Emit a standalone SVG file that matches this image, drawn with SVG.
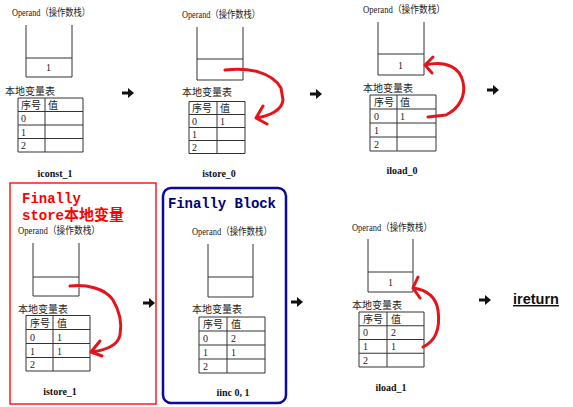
<svg xmlns="http://www.w3.org/2000/svg" xmlns:xlink="http://www.w3.org/1999/xlink" width="573" height="407" viewBox="0 0 573 407">
<style>
.bg{fill:#fff}
.ln{fill:none;stroke:#333;stroke-width:1}
.t{font-family:"Liberation Serif","Noto Sans CJK SC",serif;font-size:10px;fill:#222}
.c{font-family:"Noto Sans CJK SC",sans-serif;font-size:10px;fill:#222}
.lb{font-family:"Liberation Serif",serif;font-size:10px;font-weight:bold;fill:#111;text-anchor:middle}
.red{fill:none;stroke:#e5141b;stroke-width:3;stroke-linecap:round;stroke-linejoin:round}
.arr{fill:#111}
.mono{font-family:"Liberation Mono","Noto Sans CJK SC",monospace;font-size:14px;font-weight:bold}
</style>
<defs>
<path id="arr" d="M0,-1.6 H6 V-5 L12,0 L6,5 V1.6 H0 Z"/>
</defs>
<rect class="bg" width="573" height="407"/>

<g id="step1">
<text class="t" x="12" y="16" textLength="78" lengthAdjust="spacingAndGlyphs">Operand（操作数栈）</text>
<path class="ln" d="M26,25 V77 H72 V25 M26,58 H72"/>
<text class="t" x="46" y="71">1</text>
<text class="c" x="5" y="95">本地变量表</text>
<path class="ln" d="M18,98 H83 V152 H18 Z M18,111.5 H83 M18,125 H83 M18,138.5 H83 M45,98 V152"/>
<text class="c" x="21" y="108.5">序号</text><text class="c" x="48" y="108.5">值</text>
<text class="t" x="21" y="122">0</text><text class="t" x="21" y="135.5">1</text><text class="t" x="21" y="149">2</text>
<text class="lb" x="55" y="177">iconst_1</text>
</g>

<g id="step2">
<text class="t" x="182" y="18" textLength="78" lengthAdjust="spacingAndGlyphs">Operand（操作数栈）</text>
<path class="ln" d="M197,27 V80 H243 V27 M197,59 H243"/>
<text class="c" x="182" y="96">本地变量表</text>
<path class="ln" d="M189,101.5 H245 V153.5 H189 Z M189,114.5 H245 M189,127.5 H245 M189,140.5 H245 M217,101.5 V153.5"/>
<text class="c" x="192" y="111.5">序号</text><text class="c" x="220" y="111.5">值</text>
<text class="t" x="192" y="124.5">0</text><text class="t" x="220" y="124.5">1</text>
<text class="t" x="192" y="137.5">1</text><text class="t" x="192" y="150.5">2</text>
<text class="lb" x="219" y="177">istore_0</text>
</g>

<g id="step3">
<text class="t" x="363" y="13" textLength="82" lengthAdjust="spacingAndGlyphs">Operand（操作数栈）</text>
<path class="ln" d="M378,22 V75 H424 V22 M378,54 H424"/>
<text class="t" x="398" y="69">1</text>
<text class="c" x="363" y="92">本地变量表</text>
<path class="ln" d="M370,95 H436 V151 H370 Z M370,109 H436 M370,123 H436 M370,137 H436 M397,95 V151"/>
<text class="c" x="374" y="105.5">序号</text><text class="c" x="400" y="105.5">值</text>
<text class="t" x="374" y="119.5">0</text><text class="t" x="400" y="119.5">1</text>
<text class="t" x="374" y="133.5">1</text><text class="t" x="374" y="147.5">2</text>
<text class="lb" x="402" y="174">iload_0</text>
</g>

<g id="step4">
<rect x="10" y="183" width="146" height="221" fill="none" stroke="#ff1a1a" stroke-width="1.5"/>
<text class="mono" x="22" y="203" fill="#ff0000">Finally</text>
<text class="mono" x="22" y="220" fill="#ff0000">store<tspan font-size="15">本地变量</tspan></text>
<text class="t" x="18" y="234" textLength="82" lengthAdjust="spacingAndGlyphs">Operand（操作数栈）</text>
<path class="ln" d="M33,243 V296 H79 V243 M33,277 H79"/>
<text class="c" x="18" y="312.5">本地变量表</text>
<path class="ln" d="M26,315.5 H90 V371 H26 Z M26,329.5 H90 M26,343.5 H90 M26,357.5 H90 M53,315.5 V371"/>
<text class="c" x="30" y="327">序号</text><text class="c" x="57" y="327">值</text>
<text class="t" x="30" y="340.5">0</text><text class="t" x="57" y="340.5">1</text>
<text class="t" x="30" y="354.5">1</text><text class="t" x="57" y="354.5">1</text>
<text class="t" x="30" y="368">2</text>
<text class="lb" x="60" y="395">istore_1</text>
</g>

<g id="step5">
<rect x="163" y="188" width="123" height="215" rx="8" fill="none" stroke="#0a0aa0" stroke-width="2.5"/>
<text class="mono" x="168" y="208" fill="#00007a" textLength="108">Finally Block</text>
<text class="t" x="192" y="235" textLength="80" lengthAdjust="spacingAndGlyphs">Operand（操作数栈）</text>
<path class="ln" d="M208,244 V297 H253 V244 M208,277 H253"/>
<text class="c" x="192" y="313">本地变量表</text>
<path class="ln" d="M199,317 H265 V373 H199 Z M199,331 H265 M199,345 H265 M199,359 H265 M227,317 V373"/>
<text class="c" x="203" y="327.5">序号</text><text class="c" x="231" y="327.5">值</text>
<text class="t" x="203" y="341.5">0</text><text class="t" x="231" y="341.5">2</text>
<text class="t" x="203" y="355.5">1</text><text class="t" x="231" y="355.5">1</text>
<text class="t" x="203" y="369.5">2</text>
<text class="lb" x="233" y="396">iinc 0, 1</text>
</g>

<g id="step6">
<text class="t" x="352" y="231" textLength="80" lengthAdjust="spacingAndGlyphs">Operand（操作数栈）</text>
<path class="ln" d="M368,239 V292 H413 V239 M368,272 H413"/>
<text class="t" x="388" y="286">1</text>
<text class="c" x="352" y="308.5">本地变量表</text>
<path class="ln" d="M359,312 H424 V367 H359 Z M359,325.75 H424 M359,339.5 H424 M359,353.25 H424 M387,312 V367"/>
<text class="c" x="363" y="323">序号</text><text class="c" x="391" y="323">值</text>
<text class="t" x="363" y="336">0</text><text class="t" x="391" y="336">2</text>
<text class="t" x="363" y="350">1</text><text class="t" x="391" y="350">1</text>
<text class="t" x="363" y="364">2</text>
<text class="lb" x="391" y="391">iload_1</text>
</g>

<g id="ireturn">
<text x="513" y="304" font-family="Liberation Sans,Arial,sans-serif" font-size="14.5" font-weight="bold" fill="#111" text-decoration="underline">ireturn</text>
</g>

<g id="connectors">
<use xlink:href="#arr" href="#arr" class="arr" x="122" y="93"/>
<use xlink:href="#arr" href="#arr" class="arr" x="310" y="94"/>
<use xlink:href="#arr" href="#arr" class="arr" x="487" y="90"/>
<use xlink:href="#arr" href="#arr" class="arr" x="143" y="303"/>
<use xlink:href="#arr" href="#arr" class="arr" x="291" y="302"/>
<use xlink:href="#arr" href="#arr" class="arr" x="479" y="300"/>
<path class="red" d="M225,70 C248,67 272,72 281,88 L283,100 C282,110 270,116 256,118 M263,106 L256,118 L267,124"/>
<path class="red" d="M428,117 L446,115 C460,108 466,95 463,82 C460,68 447,60 425,65 M433,57 L425,65 L432,73"/>
<path class="red" d="M70,286 C85,284 105,288 113,300 C120,312 122,325 120,335 C118,345 108,350 91,352 M100,341 L91,352 L102,356"/>
<path class="red" d="M423,347 C438,340 440,325 438,310 C436,298 428,290 413,288 M418,277 L413,288 L420,298"/>
</g>
</svg>
